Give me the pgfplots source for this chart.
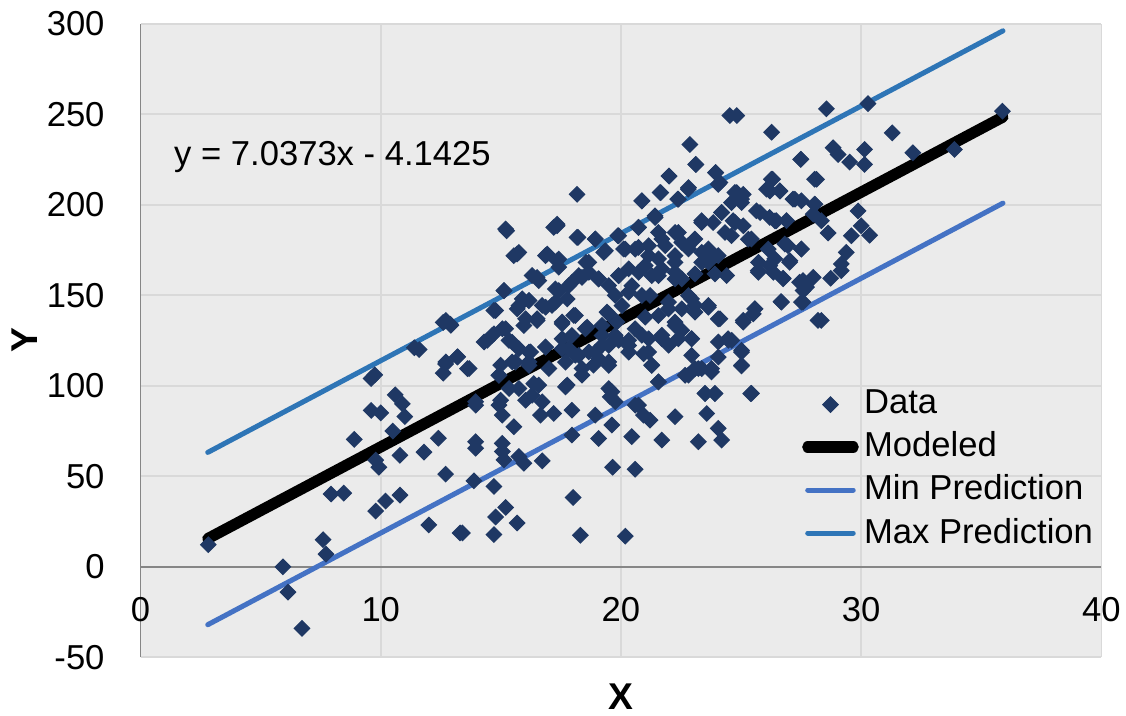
\documentclass[border=0pt]{standalone}
\usepackage{pgfplots}
\pgfplotsset{compat=1.18}
\usepackage{fontspec}
\setmainfont{Liberation Sans}
\definecolor{pts}{RGB}{31,56,100}
\definecolor{minc}{RGB}{68,114,196}
\definecolor{maxc}{RGB}{46,117,182}
\definecolor{bg}{RGB}{235,235,235}
\definecolor{gridc}{RGB}{217,217,217}
\definecolor{axc}{RGB}{134,134,134}
\begin{document}
\fontsize{13}{15}\selectfont
\begin{tikzpicture}
\begin{axis}[
  scale only axis, width=361pt, height=238pt,
  xmin=0, xmax=40, ymin=-50, ymax=300,
  axis x line=middle, axis y line=left,
  axis line style={-, draw=axc, line width=0.6pt},
  hide obscured x ticks=false, hide obscured y ticks=false,
  xtick={0,10,20,30,40}, ytick={-50,0,50,100,150,200,250,300},
  major tick length=0pt,
  grid=major, grid style={draw=gridc, line width=0.6pt},
  axis background/.style={fill=bg},
  /pgf/number format/assume math mode=true,
  tick label style={font=\fontsize{13}{15}\selectfont},
  xticklabel style={anchor=north, yshift=-7pt, inner xsep=2pt},
  yticklabel style={anchor=east, xshift=-9pt},
  xlabel={\textbf{X}}, ylabel={\textbf{Y}},
  xlabel style={at={(axis description cs:0.5,-0.03)}, anchor=north, inner ysep=2.5pt, font=\fontsize{14}{16}\selectfont},
  ylabel style={at={(axis description cs:-0.095,0.5)}, anchor=south, font=\fontsize{14}{16}\selectfont},
  legend style={at={(rel axis cs:0.688,0.431)}, anchor=north west, draw=none, fill=none,
    font=\fontsize{13}{15}\selectfont, row sep=0.8pt, inner sep=0pt},
  legend cell align=left,
  clip=false,
]
\addplot[only marks, mark=square*, mark size=2.05pt, mark options={rotate=45, fill=pts, draw=pts}] table {
x y
2.82 12.2
5.93 0
6.14 -14
6.72 -34
7.72 7
7.60 15
7.93 40.2
8.46 40.7
9.79 30.8
10.2 36.3
10.8 39.6
9.92 55
9.79 58.9
10.8 61.6
11.8 63.3
12.7 51.2
12.0 23.1
13.3 18.7
8.9 70.4
12.4 71
10.5 75
9.6 86.4
10.0 85
11.0 83
10.6 95
10.9 90
9.75 106
9.6 104
11.6 120
11.4 121
12.9 134
12.6 135
12.7 112
12.6 107
13.2 116
13.95 65.5
15.06 63.7
15.13 59.1
15.75 60.9
15.96 57.2
16.72 58.5
13.88 47.5
14.71 44.4
15.20 32.8
14.78 27.5
15.68 24.2
14.71 17.8
13.40 18.7
18.01 38.3
18.31 17.4
19.65 55.0
20.59 53.9
20.18 16.9
16.51 159.9
17.41 152.6
17.96 157.2
18.38 159.9
19.07 159.0
19.90 160.8
20.45 155.3
21.56 160.8
22.25 159.0
23.08 161.8
23.91 161.8
15.13 152.6
16.17 147.1
16.86 143.4
17.27 146.2
17.76 148.0
18.10 138.8
18.59 132.4
19.49 139.7
20.04 144.3
21.01 137.9
21.56 138.8
21.98 142.5
22.25 133.3
22.81 149.8
23.08 140.7
23.64 143.4
24.12 137.0
14.78 141.6
15.75 144.3
15.96 133.3
16.51 136.1
17.55 134.2
17.96 127.8
19.21 127.8
19.90 125.1
20.32 122.3
20.59 131.5
21.15 126.0
21.70 126.0
22.39 126.0
22.94 126.0
14.44 125.1
14.71 128.7
15.20 131.5
15.47 124.1
16.17 118.6
16.86 121.4
17.55 120.5
18.24 116.8
18.93 118.6
19.49 122.3
20.32 118.6
20.94 117.7
21.28 111.3
22.94 116.8
23.36 109.5
23.77 109.5
24.05 115.9
24.47 125.1
13.68 109.5
14.92 105.8
15.61 113.1
16.17 111.3
17.00 109.5
17.69 113.1
18.38 109.5
19.07 115.0
19.49 111.3
21.56 102.1
22.67 105.8
23.08 109.5
14.99 92.0
15.34 98.5
16.03 92.0
16.37 101.2
16.72 91.1
17.69 99.4
17.96 86.5
19.49 98.5
19.55 93.9
20.59 89.3
20.94 83.8
22.25 82.9
23.50 95.7
23.91 95.7
13.95 89.3
15.06 83.8
15.54 77.4
16.65 83.8
17.20 84.7
18.93 83.8
19.62 78.3
21.21 81.0
23.57 84.7
24.05 76.5
13.95 69.1
15.06 68.2
17.96 72.8
19.07 70.9
20.45 71.9
21.70 70.0
23.22 69.1
24.19 70.0
18.17 205.8
15.24 185.6
15.68 172.8
17.34 189.3
16.93 172.8
17.41 170.0
18.21 182.0
18.93 181.0
18.54 168.2
19.35 174.6
19.87 182.9
20.73 187.5
20.87 202.1
21.42 193.9
21.66 206.7
22.00 215.9
22.36 203.1
22.80 208.6
22.87 233.3
23.12 222.3
23.94 217.7
24.05 211.3
24.53 249.3
23.36 190.2
24.19 195.7
22.39 184.7
21.56 184.7
21.84 177.4
20.59 175.5
21.15 171.9
22.80 177.4
23.36 173.7
20.18 175.5
22.25 168.2
23.64 168.2
24.33 184.7
24.82 249.3
28.55 253.0
30.28 255.9
35.88 251.7
26.27 240.1
31.29 239.7
28.83 231.5
30.14 230.6
29.04 227.8
29.52 223.6
30.14 222.3
32.15 228.7
33.88 230.6
27.49 225.1
26.31 214.1
28.14 214.1
26.20 207.6
26.62 207.6
27.24 203.1
24.82 206.7
25.02 203.1
28.07 200.3
25.79 195.7
26.41 191.1
28.00 194.8
29.87 196.6
30.00 188.4
30.35 183.2
28.62 184.4
29.59 182.9
26.82 178.3
27.51 175.5
25.30 181.0
29.38 173.7
27.03 169.1
29.17 167.3
25.72 168.2
26.13 175.5
24.75 190.2
25.72 162.7
26.34 162.7
26.75 159.4
27.58 158.1
28.00 159.9
28.73 159.4
29.17 163.6
27.58 152.6
27.58 146.2
26.66 146.5
25.58 142.5
25.51 139.7
25.09 135.1
28.34 136.1
24.61 125.1
25.02 118.6
25.02 111.0
25.40 95.7
23.11 222.3
27.48 225.1
22.00 215.9
23.94 217.8
24.12 212.3
26.26 214.1
28.06 214.1
21.63 206.8
22.81 209.5
20.87 202.2
22.39 203.1
24.74 206.8
25.09 205.8
26.61 207.7
26.06 208.6
27.16 203.1
27.51 202.2
28.06 200.3
24.60 201.2
25.02 201.2
25.64 196.7
26.19 193.0
26.47 191.2
24.19 195.7
23.84 190.2
23.36 191.2
21.42 193.0
20.73 187.5
19.90 182.9
18.93 181.1
18.17 182.0
17.34 188.4
17.20 187.5
15.20 186.6
24.67 191.2
25.09 188.4
24.60 182.9
25.43 181.1
26.89 191.2
27.51 175.6
28.34 191.2
15.54 171.9
15.75 173.7
16.86 171.9
17.34 169.1
17.41 165.5
18.66 168.2
19.28 173.7
20.11 175.6
20.73 176.5
21.15 177.4
21.70 181.1
22.25 184.7
22.53 179.2
23.08 181.1
23.64 175.6
21.56 170.1
21.01 166.4
22.25 171.9
22.81 175.6
23.36 168.2
24.05 171.9
26.40 170.1
27.02 168.2
26.95 177.4
16.30 160.9
16.58 158.1
15.13 152.6
15.89 148.0
17.27 153.5
17.83 155.4
18.24 160.9
18.66 162.7
19.07 159.1
19.49 155.4
19.90 160.9
20.32 164.6
20.73 162.7
21.28 160.9
21.70 164.6
22.25 162.7
22.53 159.1
24.40 160.9
25.71 163.6
26.19 166.4
26.75 159.1
27.44 157.2
27.72 154.5
27.51 146.2
26.68 146.2
14.71 141.6
15.68 142.5
16.17 147.1
16.72 144.4
17.13 144.4
18.03 138.9
18.52 131.5
19.42 140.7
19.76 149.9
20.32 151.7
20.87 149.9
21.21 149.9
21.98 146.2
22.53 142.5
22.94 148.0
23.08 144.4
23.64 144.4
24.05 137.0
25.09 136.1
25.57 142.5
28.20 136.1
12.92 133.4
12.71 136.1
16.03 137.0
16.51 137.0
17.55 135.2
19.21 133.4
19.83 135.2
14.30 124.2
14.64 127.9
15.06 131.5
15.34 125.1
15.75 120.5
16.24 118.7
16.86 121.4
17.55 126.0
17.83 120.5
18.10 116.9
18.66 118.7
19.21 122.4
19.76 127.9
20.32 125.1
20.87 127.9
21.15 118.7
21.70 127.9
22.25 135.2
22.53 130.6
22.94 126.0
21.98 122.4
24.05 124.2
24.46 126.0
25.02 119.6
13.19 115.9
13.61 109.5
12.71 113.2
14.99 111.4
15.47 113.2
16.17 113.2
14.92 105.9
15.75 98.5
16.58 100.4
17.76 100.4
18.38 105.9
18.86 111.4
19.49 113.2
21.28 111.4
21.56 102.2
22.81 105.9
23.22 109.5
23.77 107.7
25.02 111.4
23.50 95.8
23.91 95.8
25.43 95.8
19.62 96.7
19.76 91.2
20.73 89.3
16.30 94.8
13.95 91.2
14.92 89.3
};
\addlegendentry{Data}
\addplot[black, line width=4.2pt, line cap=round] coordinates {(2.8,15.56) (35.9,248.5)};
\addlegendentry{Modeled}
\addplot[minc, line width=1.9pt, line cap=round] coordinates {(2.8,-32.0) (35.9,200.9)};
\addlegendentry{Min Prediction}
\addplot[maxc, line width=1.9pt, line cap=round] coordinates {(2.8,63.2) (35.9,296.1)};
\addlegendentry{Max Prediction}
\node[anchor=west, font=\fontsize{13}{15}\selectfont] at (axis cs:0.9,226.5) {y = 7.0373x - 4.1425};
\end{axis}
\end{tikzpicture}
\end{document}
